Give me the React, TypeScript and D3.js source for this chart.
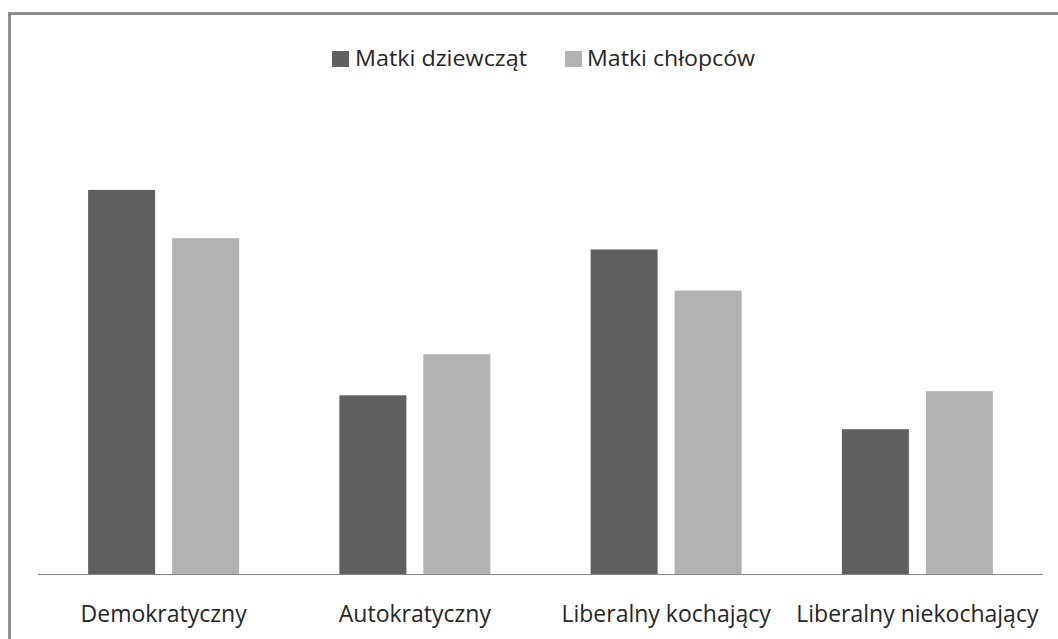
import React from "react";
import * as d3 from "d3";

const categories = ["Demokratyczny", "Autokratyczny", "Liberalny kochający", "Liberalny niekochający"];
const seriesNames = ["Matki dziewcząt", "Matki chłopców"];
const girlsMothers = [37.4, 17.4, 31.6, 14.1];
const boysMothers = [32.7, 21.4, 27.6, 17.8];
const seriesColors = ["#606060", "#b2b2b2"];

const W = 1058;
const H = 639;
const FONT = "'Open Sans', 'DejaVu Sans', sans-serif";

export default function App() {
  const baseY = 574;
  const x0 = d3.scaleBand<string>().domain(categories).range([38, 1043]).paddingInner(0).paddingOuter(0);
  const bw = x0.bandwidth();
  const groupW = 151;
  const x1 = d3
    .scaleBand<string>()
    .domain(seriesNames)
    .range([(bw - groupW) / 2, (bw + groupW) / 2])
    .paddingInner(0.2024)
    .paddingOuter(0);
  const y = d3.scaleLinear().domain([0, 50]).range([baseY, baseY - 513.5]);
  const series = [girlsMothers, boysMothers];

  const legendItems = [
    { name: seriesNames[0], sq: 332, tx: 355, len: 172 },
    { name: seriesNames[1], sq: 565, tx: 587, len: 168 },
  ];

  return (
    <svg
      width={W}
      height={H}
      style={{ position: "absolute", left: 0, top: 0, background: "#fff" }}
      fontFamily={FONT}
    >
      <rect x={0} y={0} width={W} height={H} fill="#fff" />
      <rect x={9.5} y={13.5} width={1100} height={700} fill="#fff" stroke="#878787" strokeWidth={2.8} />
      {categories.map((c, i) => (
        <g key={c} transform={`translate(${x0(c)},0)`}>
          {series.map((vals, s) => (
            <rect
              key={s}
              x={x1(seriesNames[s])}
              y={y(vals[i])}
              width={x1.bandwidth()}
              height={baseY - y(vals[i])}
              fill={seriesColors[s]}
            />
          ))}
        </g>
      ))}
      <line x1={38} x2={1043} y1={baseY + 0.5} y2={baseY + 0.5} stroke="#868686" strokeWidth={1.2} />
      {categories.map((c) => (
        <text
          key={c}
          x={(x0(c) as number) + bw / 2}
          y={622}
          textAnchor="middle"
          fontSize={23}
          fill="#262626"
        >
          {c}
        </text>
      ))}
      {legendItems.map((it, i) => (
        <g key={it.name}>
          <rect x={it.sq} y={51} width={17} height={16} fill={seriesColors[i]} />
          <text
            x={it.tx}
            y={66}
            fontSize={21}
            fill="#262626"
            textLength={it.len}
            lengthAdjust="spacingAndGlyphs"
          >
            {it.name}
          </text>
        </g>
      ))}
    </svg>
  );
}
